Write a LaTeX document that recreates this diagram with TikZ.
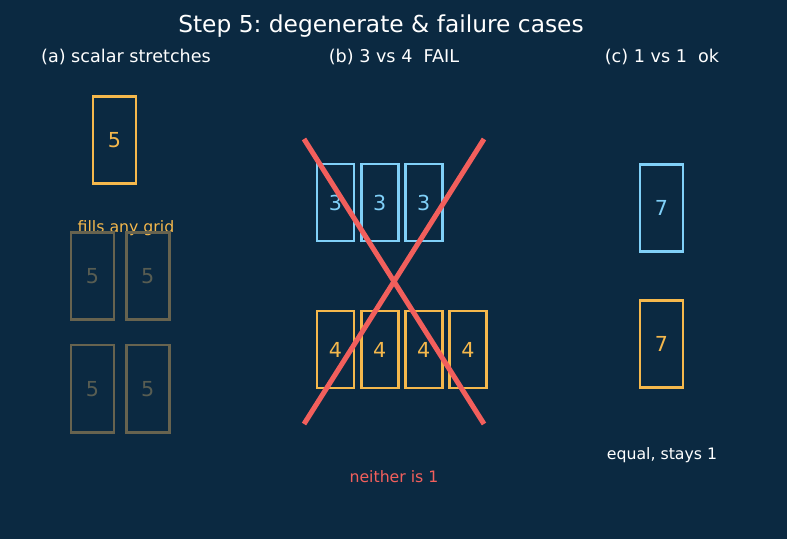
\documentclass[tikz,border=0pt]{standalone}
\usepackage{fontspec}
\setmainfont{DejaVu Sans}
\usetikzlibrary{positioning}
\frenchspacing
\definecolor{bgnavy}{HTML}{0B2941}
\definecolor{gridorange}{HTML}{F5B84C}
\definecolor{gridblue}{HTML}{80D0F8}
\definecolor{fadegrey}{HTML}{67634F}
\definecolor{fadetext}{HTML}{585D52}
\definecolor{failred}{HTML}{F25F5C}

\begin{document}
\begin{tikzpicture}[
    x=0.75pt, y=-0.75pt,
    node distance=3.2pt,
    cell/.style={rectangle, draw, line width=2.1pt, inner sep=0pt, font=\fontsize{15.5}{18}\selectfont},
    bigcell/.style={cell, minimum width=32.3pt, minimum height=65.8pt},
    thincell/.style={cell, minimum width=27.8pt, minimum height=57.8pt},
    orangecell/.style={draw=gridorange, text=gridorange},
    bluecell/.style={draw=gridblue, text=gridblue},
    greycell/.style={bigcell, draw=fadegrey, text=fadetext},
    heading/.style={text=white, font=\fontsize{13.2}{16}\selectfont},
    note/.style={font=\fontsize{11.8}{14}\selectfont}
  ]
    \fill[bgnavy] (0,0) rectangle (787,539);

    \node[text=white, font=\fontsize{17.5}{21}\selectfont] (title) at (381,26) {Step 5: degenerate \& failure cases};
    \node[heading] (heada) at (126,57) {(a) scalar stretches};
    \node[heading] (headb) at (394,57) {(b) 3 vs 4\ \ FAIL};
    \node[heading] (headc) at (662,57) {(c) 1 vs 1\ \ ok};

    % (a) one scalar
    \node[bigcell, orangecell] (scalar) at (114.5,140) {5};
    \node[note, text=gridorange] (fills) at (126,228) {fills any grid};
    \node[greycell] (g11) at (92.5,276) {5};
    \node[greycell, right=7pt of g11] (g12) {5};
    \node[greycell, below=16.75pt of g11] (g21) {5};
    \node[greycell, right=7pt of g21] (g22) {5};

    % (b) 3 against 4
    \node[thincell, bluecell] (b1) at (335.5,202.5) {3};
    \node[thincell, bluecell, right=of b1] (b2) {3};
    \node[thincell, bluecell, right=of b2] (b3) {3};
    \node[thincell, orangecell] (o1) at (335.5,349.5) {4};
    \node[thincell, orangecell, right=of o1] (o2) {4};
    \node[thincell, orangecell, right=of o2] (o3) {4};
    \node[thincell, orangecell, right=of o3] (o4) {4};
    \coordinate (crossnw) at (304,139);
    \coordinate (crossne) at (484,139);
    \coordinate (crosssw) at (304,424);
    \coordinate (crossse) at (484,424);
    \draw[failred, line width=3.8pt] (crossnw) -- (crossse);
    \draw[failred, line width=3.8pt] (crossne) -- (crosssw);
    \node[note, text=failred] (neither) at (394,477) {neither is 1};

    % (c) 1 against 1
    \node[bigcell, bluecell] (c1) at (661.5,208) {7};
    \node[bigcell, orangecell] (c2) at (661.5,344) {7};
    \node[note, text=white] (equal) at (662,455) {equal, stays 1};
  \end{tikzpicture}
\end{document}
